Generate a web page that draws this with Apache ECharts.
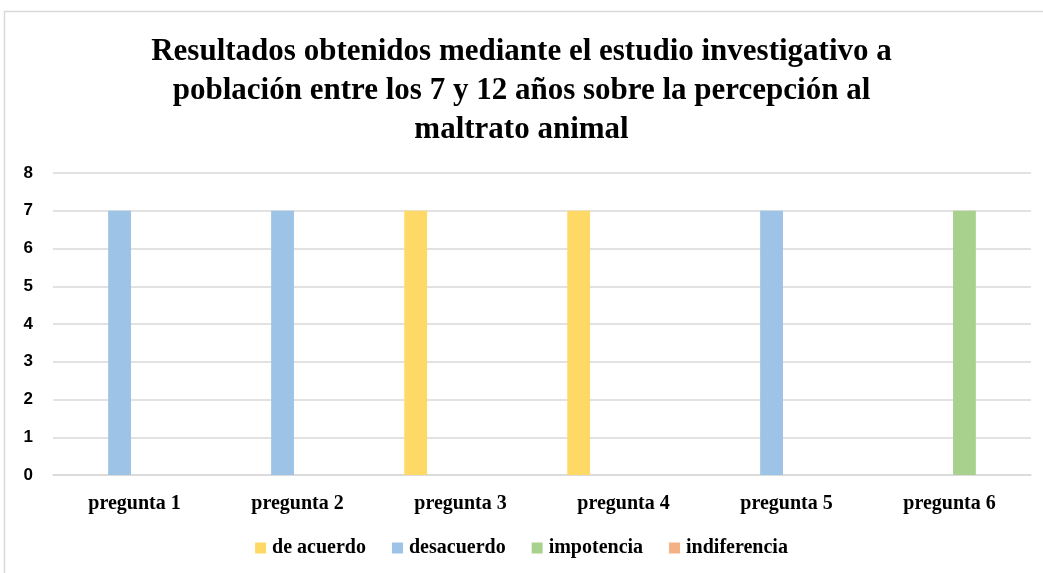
<!DOCTYPE html>
<html>
<head>
<meta charset="utf-8">
<script src="https://cdn.jsdelivr.net/npm/echarts@6/dist/echarts.min.js"></script>
<style>
html,body{margin:0;padding:0;background:#fff;}
#chart{width:1043px;height:573px;}
</style>
</head>
<body>
<div id="chart"></div>
<script>
const titleText = "Resultados obtenidos mediante el estudio investigativo a\npoblación entre los 7 y 12 años sobre la percepción al\nmaltrato animal";
const categories = ["pregunta 1","pregunta 2","pregunta 3","pregunta 4","pregunta 5","pregunta 6"];
const seriesNames = ["de acuerdo","desacuerdo","impotencia","indiferencia"];
const deAcuerdo   = [0,0,7,7,0,0];
const desacuerdo  = [7,7,0,0,7,0];
const impotencia  = [0,0,0,0,0,7];
const indiferencia= [0,0,0,0,0,0];
const colors = ["#FFD966","#9DC3E6","#A9D18E","#F4B183"];

const chart = echarts.init(document.getElementById('chart'));
const dataSets = [deAcuerdo, desacuerdo, impotencia, indiferencia];
chart.setOption({
  animation:false,
  color: colors,
  graphic:[{type:'rect',shape:{x:4.5,y:11.5,width:1060,height:600},style:{fill:'none',stroke:'#d9d9d9',lineWidth:1.5},silent:true}],
  title:{
    text:titleText,
    left:'center', top:27,
    textStyle:{fontFamily:'Liberation Serif',fontWeight:'bold',fontSize:31,lineHeight:39,color:'#000'}
  },
  legend:{
    bottom:10, left:'center',
    itemWidth:11,itemHeight:11,itemGap:26,
    icon:'rect',
    textStyle:{fontFamily:'Liberation Serif',fontWeight:'bold',fontSize:20,color:'#000',padding:[0,0,0,1]},
    data:seriesNames
  },
  grid:{left:53,right:12,top:173,bottom:98,containLabel:false},
  xAxis:{
    type:'category',data:categories,
    axisLine:{lineStyle:{color:'#d9d9d9',width:1.5}},
    axisTick:{show:false},
    axisLabel:{fontFamily:'Liberation Serif',fontWeight:'bold',fontSize:20,color:'#000',margin:19}
  },
  yAxis:{
    type:'value',min:0,max:8,interval:1,
    axisLine:{show:false},axisTick:{show:false},
    splitLine:{lineStyle:{color:'#d9d9d9',width:1.5}},
    axisLabel:{fontFamily:'Liberation Sans',fontWeight:'bold',fontSize:17,color:'#000',margin:20}
  },
  series: seriesNames.map((n,i)=>({
    name:n,type:'bar',data:dataSets[i],
    barGap:'31%',barCategoryGap:'31%'
  }))
});
</script>
</body>
</html>
